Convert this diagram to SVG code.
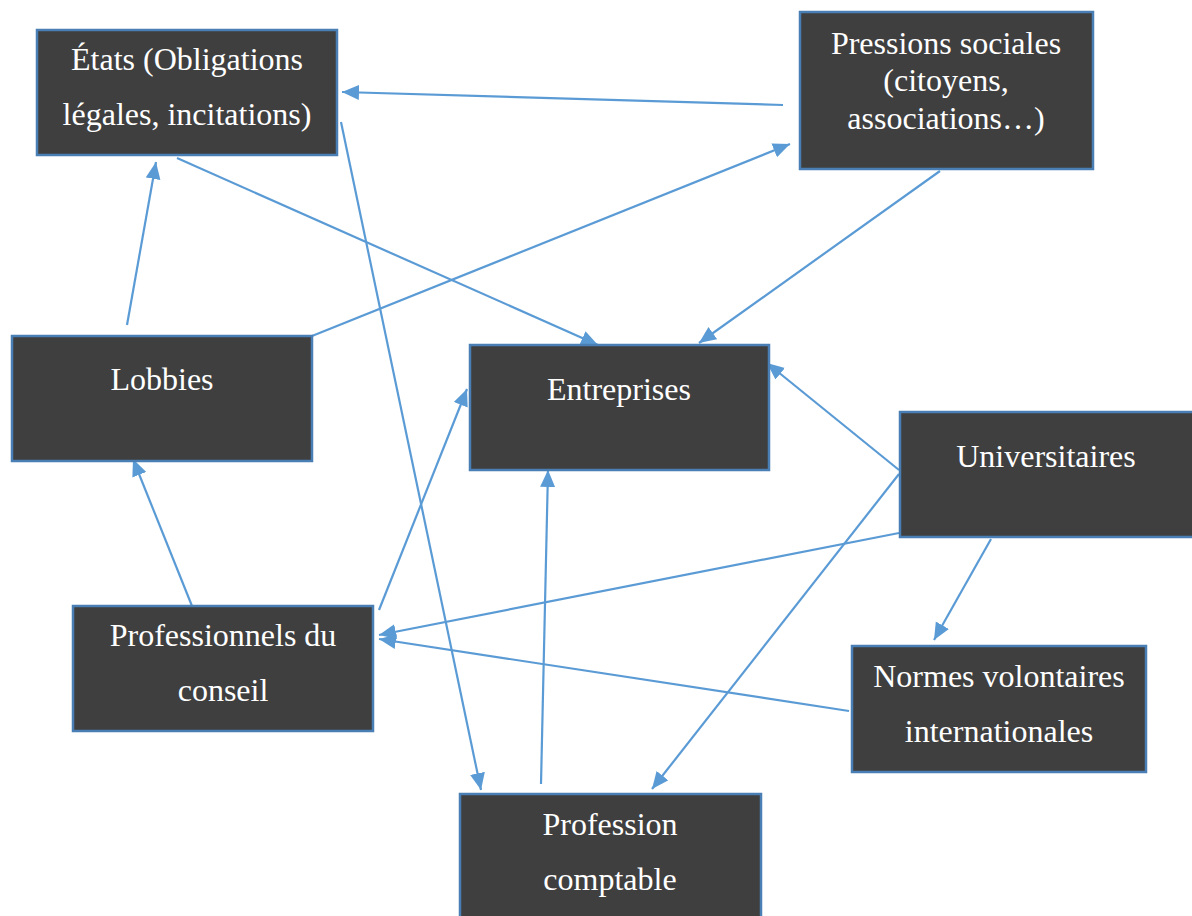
<svg xmlns="http://www.w3.org/2000/svg" width="1192" height="916" viewBox="0 0 1192 916">
<style>
.box{fill:#3f3f3f;stroke:#4a7fb5;stroke-width:2.5}
.t{font-family:'Liberation Serif','DejaVu Serif',serif;font-size:32px;fill:#ffffff;text-anchor:middle}
.c{stroke:#5b9bd5;stroke-width:2.2;fill:none;marker-end:url(#ah)}
</style>
<defs>
<marker id="ah" markerUnits="userSpaceOnUse" markerWidth="18" markerHeight="16" refX="17" refY="7.5" orient="auto">
<path d="M0,0 L17,7.5 L0,15 z" fill="#5b9bd5"/>
</marker>
</defs>
<rect width="1192" height="916" fill="#ffffff"/>
<g id="connectors">
<line class="c" x1="783" y1="105" x2="342" y2="92"/>
<line class="c" x1="312" y1="336" x2="790" y2="144"/>
<line class="c" x1="127" y1="325" x2="156" y2="162"/>
<line class="c" x1="177" y1="158" x2="598" y2="345"/>
<line class="c" x1="940" y1="171" x2="699" y2="343"/>
<line class="c" x1="341" y1="122" x2="481" y2="790"/>
<line class="c" x1="899" y1="470" x2="767" y2="363"/>
<line class="c" x1="899" y1="474" x2="652" y2="789"/>
<line class="c" x1="899" y1="533" x2="379" y2="635"/>
<line class="c" x1="991" y1="539" x2="934" y2="640"/>
<line class="c" x1="849" y1="711" x2="379" y2="639"/>
<line class="c" x1="192" y1="606" x2="133" y2="459"/>
<line class="c" x1="379" y1="610" x2="467" y2="389"/>
<line class="c" x1="541" y1="784" x2="548" y2="470"/>
</g>
<g id="etats">
<rect class="box" x="37" y="30" width="300" height="125"/>
<text class="t" x="187" y="70">États (Obligations</text>
<text class="t" x="187" y="125">légales, incitations)</text>
</g>
<g id="pressions">
<rect class="box" x="800" y="12" width="293" height="157"/>
<text class="t" x="946" y="54">Pressions sociales</text>
<text class="t" x="946" y="91">(citoyens,</text>
<text class="t" x="946" y="129">associations…)</text>
</g>
<g id="lobbies">
<rect class="box" x="12" y="336" width="300" height="125"/>
<text class="t" x="162" y="390">Lobbies</text>
</g>
<g id="entreprises">
<rect class="box" x="470" y="345" width="299" height="125"/>
<text class="t" x="619" y="400">Entreprises</text>
</g>
<g id="universitaires">
<rect class="box" x="900" y="412" width="294" height="125"/>
<text class="t" x="1046" y="467">Universitaires</text>
</g>
<g id="professionnels">
<rect class="box" x="73" y="606" width="300" height="125"/>
<text class="t" x="223" y="646">Professionnels du</text>
<text class="t" x="223" y="701">conseil</text>
</g>
<g id="normes">
<rect class="box" x="852" y="646" width="294" height="126"/>
<text class="t" x="999" y="687">Normes volontaires</text>
<text class="t" x="999" y="742">internationales</text>
</g>
<g id="profession">
<rect class="box" x="460" y="794" width="301" height="130"/>
<text class="t" x="610" y="835">Profession</text>
<text class="t" x="610" y="890">comptable</text>
</g>
</svg>
